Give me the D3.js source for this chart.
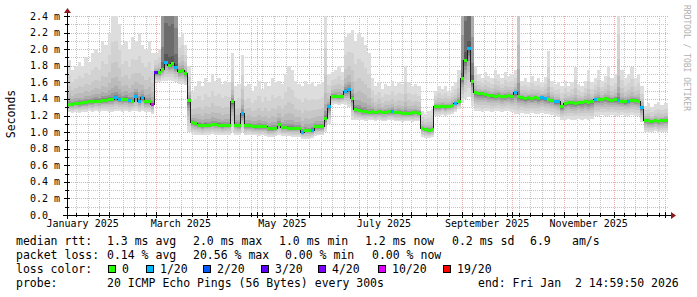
<!DOCTYPE html>
<html>
<head>
<meta charset="utf-8">
<title>SmokePing year graph</title>
<script src="https://cdn.jsdelivr.net/npm/d3@7"></script>
<style>
  body { margin: 0; background: #fff; }
  svg { display: block; }
  text { font-family: "DejaVu Sans Mono", monospace; white-space: pre; }
</style>
</head>
<body>
<svg id="mainsvg" width="697" height="297"></svg>
<script>
// one sample every 2 days, starting 2025-01-07 (values in ms)
const median = [
  1.34, 1.34, 1.35, 1.35, 1.36, 1.36, 1.37, 1.37, 1.38, 1.38,
  1.39, 1.39, 1.40, 1.40, 1.42, 1.40, 1.40, 1.40, 1.39, 1.38,
  1.44, 1.38, 1.42, 1.37, 1.37, 1.34, 1.72, 1.72, 1.76, 1.85,
  1.81, 1.83, 1.79, 1.74, 1.75, 1.71, 1.39, 1.12, 1.11, 1.09,
  1.08, 1.09, 1.09, 1.10, 1.10, 1.09, 1.085, 1.085, 1.09, 1.37,
  1.09, 1.085, 1.23, 1.08, 1.08, 1.075, 1.07, 1.07, 1.07, 1.07,
  1.045, 1.045, 1.05, 1.10, 1.06, 1.06, 1.055, 1.05, 1.05, 1.05,
  1.00, 1.02, 1.02, 1.03, 1.07, 1.07, 1.07, 1.17, 1.31, 1.44,
  1.44, 1.43, 1.44, 1.50, 1.52, 1.41, 1.28, 1.27, 1.25, 1.25,
  1.24, 1.25, 1.24, 1.25, 1.24, 1.24, 1.25, 1.25, 1.24, 1.24,
  1.23, 1.23, 1.23, 1.24, 1.24, 1.23, 1.05, 1.04, 1.03, 1.04,
  1.31, 1.31, 1.32, 1.31, 1.32, 1.33, 1.35, 1.38, 1.65, 1.87,
  2.01, 1.62, 1.48, 1.47, 1.47, 1.46, 1.45, 1.45, 1.44, 1.45,
  1.44, 1.44, 1.45, 1.44, 1.48, 1.43, 1.42, 1.41, 1.42, 1.41,
  1.42, 1.41, 1.42, 1.41, 1.40, 1.39, 1.37, 1.37, 1.31, 1.35,
  1.36, 1.36, 1.35, 1.36, 1.36, 1.37, 1.36, 1.37, 1.40, 1.40,
  1.40, 1.41, 1.40, 1.39, 1.40, 1.39, 1.38, 1.37, 1.38, 1.39,
  1.39, 1.38, 1.30, 1.15, 1.14, 1.13, 1.14, 1.13, 1.14, 1.15
];

// lost pings out of 20
const loss = [
  0, 0, 0, 0, 0, 0, 0, 0, 0, 0,
  0, 0, 0, 0, 1, 1, 0, 0, 1, 0,
  1, 1, 1, 0, 0, 10, 3, 0, 0, 1,
  0, 0, 1, 0, 0, 0, 0, 0, 0, 0,
  0, 0, 0, 0, 0, 0, 0, 0, 0, 0,
  0, 0, 1, 0, 0, 0, 0, 0, 0, 0,
  0, 0, 0, 0, 0, 0, 0, 0, 0, 0,
  1, 0, 0, 1, 0, 0, 0, 0, 1, 0,
  0, 0, 0, 1, 1, 0, 0, 0, 0, 0,
  0, 0, 0, 0, 0, 0, 0, 1, 0, 0,
  0, 0, 0, 0, 0, 0, 0, 0, 0, 0,
  0, 0, 0, 0, 0, 0, 1, 0, 0, 0,
  1, 0, 0, 0, 0, 0, 0, 0, 0, 0,
  0, 0, 0, 0, 1, 0, 0, 0, 0, 0,
  0, 0, 1, 1, 0, 0, 1, 1, 0, 0,
  0, 0, 0, 0, 0, 0, 0, 0, 1, 0,
  0, 0, 0, 0, 0, 1, 0, 0, 1, 0,
  0, 0, 1, 0, 0, 0, 0, 0, 0, 0
];

// slowest ping (top of the smoke)
const pingMax = [
  1.87, 1.75, 1.80, 1.85, 1.80, 1.90, 1.85, 1.95, 2.00, 1.95,
  2.10, 2.05, 2.20, 2.45, 2.45, 2.30, 2.05, 2.10, 2.00, 2.15,
  2.10, 2.20, 2.05, 2.00, 2.10, 1.95, 1.95, 2.00, 12.0, 60.0,
  60.0, 60.0, 20.0, 2.15, 2.20, 2.05, 1.80, 1.50, 1.55, 1.62,
  1.55, 1.65, 1.60, 1.70, 1.62, 1.65, 1.58, 1.62, 1.60, 1.95,
  1.55, 1.58, 1.93, 1.55, 1.58, 1.50, 1.55, 1.62, 1.52, 1.60,
  1.55, 1.65, 1.60, 1.62, 1.58, 1.70, 1.80, 1.75, 1.62, 1.58,
  1.55, 1.62, 1.58, 1.60, 1.55, 1.58, 1.60, 2.45, 1.70, 1.72,
  1.75, 1.80, 1.72, 2.15, 2.20, 2.23, 2.10, 2.20, 2.15, 2.05,
  1.95, 1.65, 1.55, 1.60, 1.52, 1.58, 1.55, 1.62, 1.55, 1.60,
  1.58, 1.80, 1.60, 1.55, 1.58, 1.55, 1.25, 1.22, 1.25, 1.28,
  1.50, 1.55, 1.52, 1.55, 1.50, 1.55, 1.60, 1.75, 10.0, 60.0,
  60.0, 10.0, 1.80, 1.70, 1.65, 1.72, 1.68, 1.65, 1.75, 1.70,
  1.65, 1.72, 1.68, 1.70, 1.75, 4.00, 1.62, 1.65, 1.60, 1.68,
  1.62, 1.65, 1.60, 1.67, 1.98, 1.62, 1.58, 1.60, 1.55, 1.62,
  1.55, 1.60, 1.78, 1.58, 1.55, 1.62, 1.75, 1.60, 1.65, 1.75,
  1.62, 1.68, 1.80, 1.65, 1.70, 2.60, 1.75, 1.65, 1.70, 1.78,
  1.65, 1.70, 1.55, 1.32, 1.35, 1.30, 1.34, 1.36, 1.33, 1.35
];

// fastest ping (bottom of the smoke)
const pingMin = [
  1.24, 1.23, 1.24, 1.23, 1.24, 1.24, 1.25, 1.24, 1.25, 1.24,
  1.25, 1.25, 1.24, 1.24, 1.25, 1.25, 1.24, 1.25, 1.24, 1.25,
  1.25, 1.24, 1.25, 1.24, 1.24, 1.22, 1.60, 1.60, 1.62, 1.62,
  1.63, 1.62, 1.60, 1.58, 1.58, 1.57, 1.00, 0.98, 0.97, 0.97,
  0.96, 0.97, 0.97, 0.98, 0.97, 0.97, 0.96, 0.97, 0.97, 1.00,
  0.97, 0.96, 1.00, 0.96, 0.97, 0.96, 0.96, 0.95, 0.96, 0.95,
  0.94, 0.94, 0.95, 0.97, 0.95, 0.95, 0.95, 0.94, 0.94, 0.94,
  0.92, 0.92, 0.92, 0.93, 0.95, 0.96, 0.96, 1.00, 1.10, 1.33,
  1.34, 1.33, 1.34, 1.33, 1.30, 1.15, 1.15, 1.14, 1.14, 1.13,
  1.14, 1.14, 1.13, 1.14, 1.13, 1.13, 1.14, 1.14, 1.13, 1.13,
  1.12, 1.13, 1.13, 1.12, 1.13, 1.13, 0.94, 0.93, 0.93, 0.94,
  1.20, 1.20, 1.21, 1.20, 1.21, 1.22, 1.24, 1.28, 1.35, 1.40,
  1.42, 1.32, 1.25, 1.25, 1.24, 1.25, 1.25, 1.24, 1.25, 1.25,
  1.24, 1.25, 1.25, 1.24, 1.22, 1.22, 1.23, 1.22, 1.22, 1.23,
  1.22, 1.22, 1.23, 1.22, 1.22, 1.21, 1.20, 1.18, 1.15, 1.15,
  1.16, 1.15, 1.15, 1.16, 1.15, 1.16, 1.15, 1.16, 1.20, 1.20,
  1.21, 1.20, 1.20, 1.21, 1.20, 1.20, 1.21, 1.20, 1.20, 1.21,
  1.20, 1.20, 1.12, 1.00, 0.99, 1.00, 1.01, 0.99, 1.00, 1.00
];

const yTickValues = [0, 0.2, 0.4, 0.6, 0.8, 1.0, 1.2, 1.4, 1.6, 1.8, 2.0, 2.2, 2.4];
const yTickLabels = ["0.0", "0.2 m", "0.4 m", "0.6 m", "0.8 m", "1.0 m", "1.2 m",
                     "1.4 m", "1.6 m", "1.8 m", "2.0 m", "2.2 m", "2.4 m"];

const rttLegend = ["1.3 ms avg", "2.0 ms max", "1.0 ms min", "1.2 ms now", "0.2 ms sd", "6.9", "am/s"];
const lossLegend = ["0.14 % avg", "20.56 % max", "0.00 % min", "0.00 % now"];
const lossLabels = ["0", "1/20", "2/20", "3/20", "4/20", "10/20", "19/20"];
const lossColors = ["#26ff00", "#00b8ff", "#0059ff", "#5e00ff", "#7e00ff", "#dd00ff", "#ff0000"];
const lossSteps = [1, 2, 3, 4, 10, 19];
const probeText = "20 ICMP Echo Pings (56 Bytes) every 300s";
const endText = "end: Fri Jan  2 14:59:50 2026";

const DAY = 864e5;
const START = Date.UTC(2025, 0, 7);
const END = Date.UTC(2026, 0, 2, 14, 59, 50);

// plot box
const L = 67, R = 668, T = 16, B = 215;

const svg = d3.select('#mainsvg');
svg.append('rect').attr('width', 697).attr('height', 297).attr('fill', '#fff');

const x = d3.scaleUtc().domain([new Date(END - 361 * DAY), new Date(END)]).range([L, R]);
const y = d3.scaleLinear().domain([0, 2.4]).range([B, T]);
const lossColor = d3.scaleThreshold().domain(lossSteps).range(lossColors);

let pts = median.map((m, i) => ({
  t: new Date(START + i * 2 * DAY), med: m, lo: pingMin[i], hi: pingMax[i], loss: loss[i]
}));
// closing point so the last step reaches the right edge
pts.push(Object.assign({}, pts[pts.length - 1], {t: new Date(END)}));

// grid
const grid = svg.append('g').attr('shape-rendering', 'crispEdges');
const minorY = d3.range(0, 25).map(k => k / 10);
const months = d3.utcMonth.range(x.domain()[0], x.domain()[1]);
// weekly lines, dropped where they would crowd a month line
const weeks = d3.utcSunday.range(x.domain()[0], x.domain()[1])
  .filter(w => months.every(m => Math.abs(x(w) - x(m)) > 3.5));
const px = v => Math.round(v) + 0.5;
grid.selectAll('.hmin').data(minorY.filter((d, k) => k % 2)).join('line')
  .attr('x1', L).attr('x2', R).attr('y1', d => px(y(d))).attr('y2', d => px(y(d)))
  .attr('stroke', '#c4c4c4').attr('stroke-dasharray', '1,1');
grid.selectAll('.vmin').data(weeks).join('line')
  .attr('x1', d => px(x(d))).attr('x2', d => px(x(d))).attr('y1', T).attr('y2', B)
  .attr('stroke', '#c4c4c4').attr('stroke-dasharray', '1,1');
grid.selectAll('.hmaj').data(yTickValues.slice(1)).join('line')
  .attr('x1', L).attr('x2', R).attr('y1', d => px(y(d))).attr('y2', d => px(y(d)))
  .attr('stroke', '#e8acac').attr('stroke-dasharray', '1,1');
grid.selectAll('.vmaj').data(months).join('line')
  .attr('x1', d => px(x(d))).attr('x2', d => px(x(d))).attr('y1', T).attr('y2', B)
  .attr('stroke', '#e8acac').attr('stroke-dasharray', '1,1');

// smoke: nested bands, lightest outside, darker towards the median
svg.append('clipPath').attr('id', 'plot').append('rect')
  .attr('x', L).attr('y', T).attr('width', R - L).attr('height', B - T);
const plot = svg.append('g').attr('clip-path', 'url(#plot)');
const smoke = plot.append('g').attr('shape-rendering', 'crispEdges');
const shades = [221, 210, 199, 187, 172, 152, 130, 108, 88, 70];
shades.forEach((g, k) => {
  const fu = Math.pow((10 - k) / 10, 4), fl = Math.pow((10 - k) / 10, 2);
  const band = d3.area()
    .x(d => x(d.t))
    .y0(d => y(d.med - (d.med - d.lo) * fl))
    .y1(d => y(d.med + (d.hi - d.med) * fu))
    .curve(d3.curveStepAfter);
  smoke.append('path').datum(pts).attr('d', band).attr('fill', d3.rgb(g, g, g));
});

// median
plot.append('path').datum(pts)
  .attr('d', d3.line().x(d => x(d.t)).y(d => px(y(d.med))).curve(d3.curveStepAfter))
  .attr('fill', 'none').attr('stroke', '#202020').attr('stroke-width', 1).attr('shape-rendering', 'crispEdges');
plot.append('g').attr('shape-rendering', 'crispEdges')
  .selectAll('rect').data(pts.slice(0, -1)).join('rect')
  .attr('x', d => x(d.t))
  .attr('width', (d, i) => x(pts[i + 1].t) - x(d.t))
  .attr('y', d => Math.round(y(d.med)) - 1)
  .attr('height', 3)
  .attr('fill', d => lossColor(d.loss));

// axes
const ax = svg.append('g').attr('shape-rendering', 'crispEdges');
ax.append('line').attr('x1', L - 4).attr('x2', R + 4).attr('y1', B + 0.5).attr('y2', B + 0.5).attr('stroke', '#000');
ax.append('line').attr('x1', L + 0.5).attr('x2', L + 0.5).attr('y1', B + 4).attr('y2', T - 4).attr('stroke', '#000');
ax.selectAll('.ty').data(minorY).join('line')
  .attr('x1', (d, k) => k % 2 ? L - 2 : L - 3).attr('x2', (d, k) => k % 2 ? L + 2 : L + 3)
  .attr('y1', d => px(y(d))).attr('y2', d => px(y(d))).attr('stroke', '#000');
ax.selectAll('.tx').data(weeks).join('line')
  .attr('x1', d => px(x(d))).attr('x2', d => px(x(d)))
  .attr('y1', B - 2).attr('y2', B + 2).attr('stroke', '#000');
ax.selectAll('.txm').data(months).join('line')
  .attr('x1', d => px(x(d))).attr('x2', d => px(x(d)))
  .attr('y1', B - 3).attr('y2', B + 3).attr('stroke', '#000');
svg.append('path').attr('d', `M${R + 3},${B - 3}L${R + 8},${B + 0.5}L${R + 3},${B + 4}Z`).attr('fill', '#8b1a1a');
svg.append('path').attr('d', `M${L - 3},${T - 3}L${L + 0.5},${T - 8}L${L + 4},${T - 3}Z`).attr('fill', '#8b1a1a');

// axis labels
svg.append('g').selectAll('text').data(yTickValues).join('text')
  .attr('x', 30).attr('y', d => y(d) + 3.5)
  .attr('font-size', 10).text((d, i) => yTickLabels[i]);
const labelMonths = d3.utcMonth.every(2).range(new Date(Date.UTC(2025, 0, 1)), new Date(END))
  .filter(d => +d + 15 * DAY <= END);
svg.append('g').selectAll('text').data(labelMonths).join('text')
  .attr('x', d => x(new Date(+d + 15 * DAY))).attr('y', 227)
  .attr('text-anchor', 'middle').attr('font-size', 10)
  .text(d3.utcFormat('%B %Y'));

svg.append('text').attr('transform', 'translate(15,114) rotate(-90)')
  .attr('text-anchor', 'middle').attr('font-size', 11.5).text('Seconds');
svg.append('text').attr('transform', 'translate(684,5) rotate(90)')
  .attr('font-size', 8).attr('fill', '#b0b0b0').text('RRDTOOL / TOBI OETIKER');

// legend
const lg = svg.append('g').attr('font-size', 11.5).attr('fill', '#000');
const rttX = [107, 193, 279, 365, 452, 530, 572];
const lossX = [107, 193, 285, 372];
lg.append('text').attr('x', 16).attr('y', 245).text('median rtt:');
rttLegend.forEach((s, i) => lg.append('text').attr('x', rttX[i]).attr('y', 245).text(s));
lg.append('text').attr('x', 16).attr('y', 259).text('packet loss:');
lossLegend.forEach((s, i) => lg.append('text').attr('x', lossX[i]).attr('y', 259).text(s));
lg.append('text').attr('x', 16).attr('y', 273).text('loss color:');
const swX = [108, 146, 203, 261, 318, 378, 443];
lossLabels.forEach((s, i) => {
  lg.append('rect').attr('x', swX[i] + 0.5).attr('y', 265.5).attr('width', 7).attr('height', 7)
    .attr('fill', lossColors[i]).attr('stroke', '#000').attr('stroke-width', 1);
  lg.append('text').attr('x', swX[i] + 14).attr('y', 273).text(s);
});
lg.append('text').attr('x', 16).attr('y', 287).text('probe:');
lg.append('text').attr('x', 107).attr('y', 287).text(probeText);
lg.append('text').attr('x', 478).attr('y', 287).text(endText);
</script>
</body>
</html>
